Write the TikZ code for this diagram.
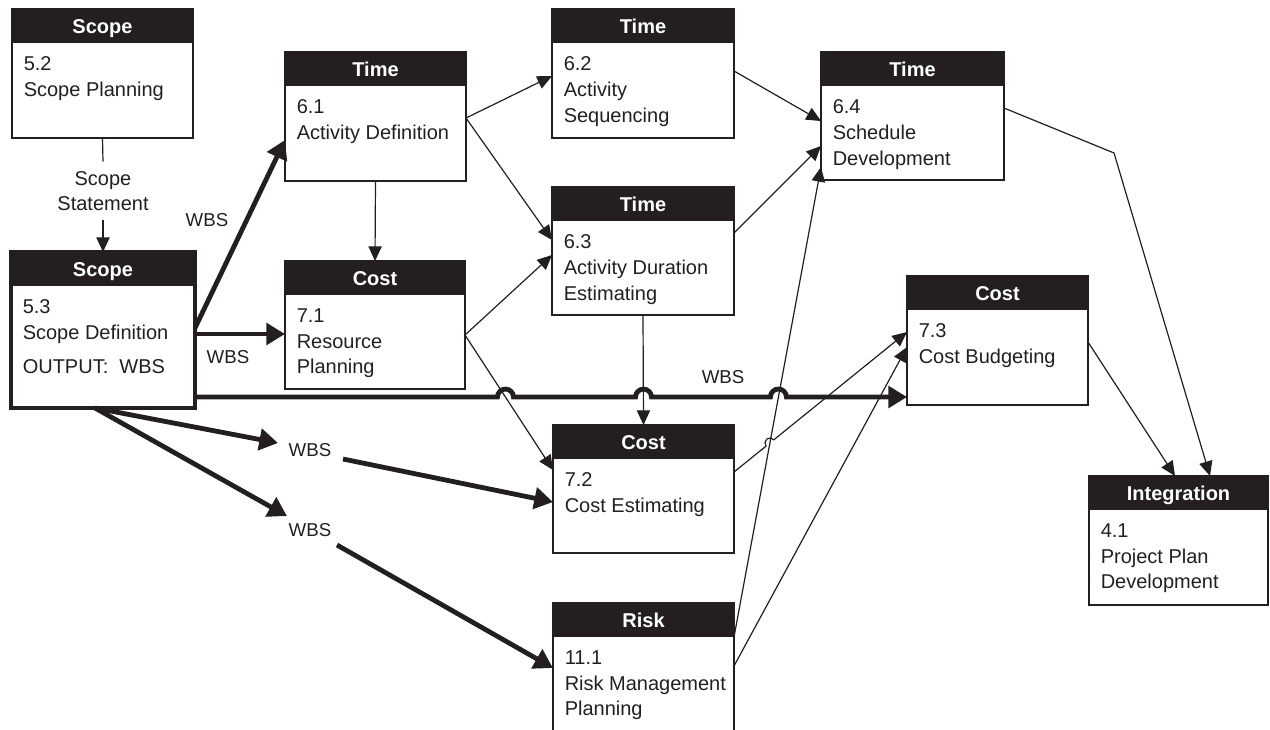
\documentclass[tikz,border=0pt]{standalone}
\usepackage{fontspec}
\setmainfont{Liberation Sans}
\usetikzlibrary{arrows.meta,calc}
\definecolor{ink}{HTML}{231F20}
\newcommand\procbox[8]{%
  \node[hdr, minimum width={(#5-#3)*0.75pt}, minimum height={34*0.75pt}] (#2-h) at ({(#3+#5)/2},{#4+17}) {#7};
  \node[box, #1, minimum width={(#5-#3)*0.75pt}, minimum height={(#6-#4)*0.75pt}] (#2) at ({(#3+#5)/2},{(#4+#6)/2}) {};
  \node[bodytxt] (#2-t) at ({#3+11.5},{#4+34+13.7}) {#8};
}
\begin{document}
\begin{tikzpicture}[x=0.75pt,y=-0.75pt,
  hdr/.style={fill=ink, draw=none, inner sep=0pt, outer sep=0pt, text=white,
    font=\bfseries\fontsize{15}{18}\selectfont, text height=10.8pt, text depth=0pt},
  box/.style={rectangle, draw=ink, line width=1.5pt, inner sep=0pt, outer sep=0pt},
  bodytxt/.style={anchor=north west, align=left, inner sep=0pt, text=ink,
    font=\fontsize{15}{19.2}\selectfont},
  lbl/.style={text=ink, inner sep=1pt, font=\fontsize{14}{17}\selectfont},
  con/.style={draw=ink, line width=0.9pt, -{Triangle[length=11pt,width=10pt]}},
  conline/.style={draw=ink, line width=0.9pt},
  fat/.style={draw=ink, line width=3.6pt, -{Triangle[length=14pt,width=16pt]}},
  fatline/.style={draw=ink, line width=3.6pt}]
\useasboundingbox (0,0) rectangle (1270,729);
\clip (0,0) rectangle (1270,729);

% boxes
\procbox{}{b52}{12}{9}{193}{138}{Scope}{5.2\\Scope Planning}
\procbox{line width=2.6pt}{b53}{11}{252}{195}{408}{Scope}{5.3\\Scope Definition\\[6.4pt]OUTPUT:\ \ WBS}
\procbox{}{b61}{285}{52}{466}{181}{Time}{6.1\\Activity Definition}
\procbox{}{b71}{285}{261}{465}{389}{Cost}{7.1\\Resource\\Planning}
\procbox{}{b62}{552}{9}{734}{138}{Time}{6.2\\Activity\\Sequencing}
\procbox{}{b63}{552}{187}{734}{315}{Time}{6.3\\Activity Duration\\Estimating}
\procbox{}{b64}{821}{52}{1004}{180}{Time}{6.4\\Schedule\\Development}
\procbox{}{b73}{907}{276}{1088}{405}{Cost}{7.3\\Cost Budgeting}
\procbox{}{b72}{553}{425}{734}{553}{Cost}{7.2\\Cost Estimating}
\procbox{}{b111}{553}{603}{734}{740}{Risk}{11.1\\Risk Management\\Planning}
\procbox{}{b41}{1089}{476}{1268}{605}{Integration}{4.1\\Project Plan\\Development}

% labels
\node[lbl, align=center, font=\fontsize{15}{19.2}\selectfont, inner ysep=7pt] (ss) at (103,191) {Scope\\Statement};
\node[lbl] (wbsA) at (207,220) {WBS};
\node[lbl] (wbsB) at (228,357) {WBS};
\node[lbl] (wbsC) at (723,377) {WBS};
\node[lbl] (wbs1) at (310,450) {WBS};
\node[lbl] (wbs2) at (310,530) {WBS};

% named points
\coordinate (T3a) at ($(b53.north east)+(0,145)$);
\coordinate (T3b) at ($(b73.north west)+(0,121)$);
\coordinate (t6a) at ($(b71.north east)+(0,74)$);
\coordinate (t6b) at ($(b72.north west)+(0,45)$);
\coordinate (t9a) at (b63.south);
\coordinate (t9b) at (b72.north);
\coordinate (t11a) at ($(b111.north east)+(0,34)$);
\coordinate (t11b) at ($(b64.north west)+(0,115)$);
\coordinate (t10a) at ($(b72.north east)+(0,47)$);
\coordinate (t10b) at ($(b73.north west)+(0,56)$);
\coordinate (h1) at (intersection of T3a--T3b and t6a--t6b);
\coordinate (h2) at (intersection of T3a--T3b and t9a--t9b);
\coordinate (h3) at (intersection of T3a--T3b and t11a--t11b);
\coordinate (h4) at (intersection of t10a--t10b and t11a--t11b);
\coordinate (bend64) at (1114,153);

% thin connectors
\draw[conline] (b52.south) -- (ss.north);
\draw[con] (ss.south) -- (b53.north);
\draw[con] ($(b61.north east)+(0,66)$) -- ($(b62.north west)+(0,67)$);
\draw[con] ($(b61.north east)+(0,66)$) -- ($(b63.north west)+(0,53)$);
\draw[con] (b61.south) -- (b71.north);
\draw[con] (t6a) -- ($(b63.north west)+(0,68)$);
\draw[con] (t6a) -- (t6b);
\draw[con] ($(b62.north east)+(0,62)$) -- ($(b64.north west)+(0,69)$);
\draw[con] ($(b63.north east)+(0,46)$) -- ($(b64.north west)+(0,94)$);
\draw[con] (t9a) -- (t9b);
\draw[con] let \p1=($(t10b)-(t10a)$), \n1={atan2(\y1,\x1)} in
  (t10a) -- ($(h4)+(\n1+180:3.75pt)$) arc[start angle=\n1+180,end angle=\n1,radius=3.75pt] -- (t10b);
\draw[con] (t11a) -- (t11b);
\draw[con] ($(b111.north east)+(0,63)$) -- ($(b73.north west)+(0,71)$);
\draw[con] ($(b64.north east)+(0,56)$) -- (bend64) -- ($(b41.north west)+(121,0)$);
\draw[con] ($(b73.north east)+(0,66)$) -- ($(b41.north west)+(86,0)$);

% thick connectors
\draw[fat] ($(b53.north east)+(0,76)$) -- ($(b61.north west)+(0,88)$);
\draw[fat] ($(b53.north east)+(0,82)$) -- ($(b71.north west)+(0,73)$);
\draw[fat] (T3a) -- ($(h1)+(-8,0)$) arc[start angle=180,end angle=0,radius=6pt]
  -- ($(h2)+(-8,0)$) arc[start angle=180,end angle=0,radius=6pt]
  -- ($(h3)+(-8,0)$) arc[start angle=180,end angle=0,radius=6pt] -- (T3b);
\draw[fat] ($(b53.south west)+(84,0)$) -- ($(wbs1.center)+(-32,-7)$);
\draw[fat] ($(wbs1.center)+(33,9)$) -- ($(b72.north west)+(0,77)$);
\draw[fat] ($(b53.south west)+(84,0)$) -- ($(wbs2.center)+(-23,-14)$);
\draw[fat] ($(wbs2.center)+(27,15)$) -- ($(b111.north west)+(0,65)$);
\end{tikzpicture}
\end{document}
